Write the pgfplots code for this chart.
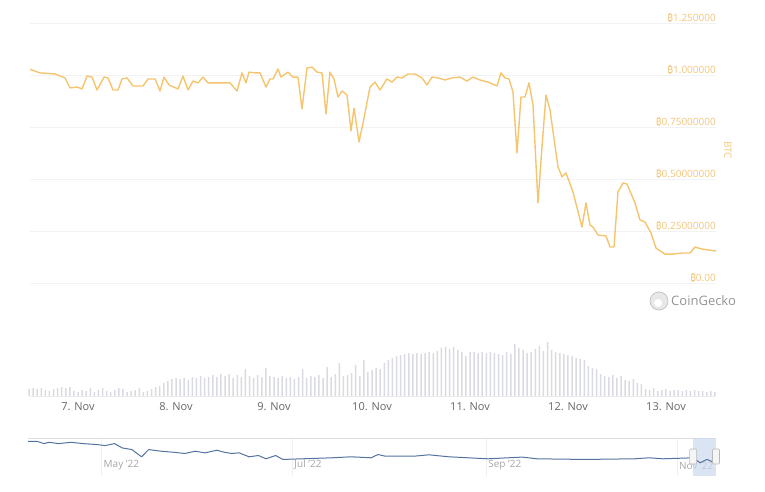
\documentclass[border=0pt]{standalone}
\usepackage{fontspec}
\setmainfont{Open Sans}
\newfontfamily\btc{Noto Sans}
\usepackage{pgfplots}
\pgfplotsset{compat=1.18}
\definecolor{btcline}{HTML}{F5C46E}
\definecolor{btclab}{HTML}{F2C57A}
\definecolor{gridc}{HTML}{F2F2F2}
\definecolor{volc}{HTML}{DADAE2}
\definecolor{xlab}{HTML}{666666}
\definecolor{navline}{HTML}{55739F}
\definecolor{navsel}{HTML}{CCD9EE}
\definecolor{cg}{HTML}{949494}
\begin{document}
\begin{tikzpicture}
\useasboundingbox (0pt,0pt) rectangle (765pt,-492pt);
% ---------- main price axis ----------
\begin{axis}[
 at={(30pt,-283pt)}, anchor=south west,
 scale only axis, width=686pt, height=260pt,
 xmin=-11.76, xmax=156.25, ymin=0, ymax=1.25,
 axis line style={draw=none}, major tick length=0pt,
 xtick=\empty,
 ytick={0,0.25,0.5,0.75,1,1.25},
 yticklabels={{\btc ₿}0.00,{\btc ₿}0.25000000,{\btc ₿}0.50000000,{\btc ₿}0.75000000,{\btc ₿}1.000000,{\btc ₿}1.250000},
 ymajorgrids, grid style={gridc, line width=0.8pt},
 yticklabel pos=right,
 yticklabel style={anchor=south east, inner sep=0pt, yshift=0.5pt, font=\fontsize{10}{12}\selectfont, text=btclab},
 clip=false,
]
\addplot[btcline, line width=1.4pt, line join=round] coordinates {
(-11.76,1.027)(-9.31,1.010)(-5.63,1.005)(-3.18,0.986)(-1.96,0.938)(-0.24,0.942)(0.98,0.933)
(2.20,0.995)(3.43,0.990)(4.65,0.928)(6.37,0.990)(7.35,0.986)(8.57,0.928)(9.80,0.928)
(10.78,0.981)(12.0,0.986)(13.47,0.947)(15.92,0.947)(17.14,0.981)(18.86,0.981)(20.08,0.923)
(21.06,0.990)(22.29,0.952)(24.49,0.933)(25.71,0.995)(26.94,0.928)(28.16,0.971)(29.39,0.962)
(30.61,0.990)(31.84,0.962)(37.22,0.962)(38.94,0.923)(40.16,1.010)(41.14,0.962)(41.88,1.014)
(43.35,1.010)(44.57,1.010)(46.04,0.942)(47.02,0.981)(47.76,0.981)(48.98,1.029)(49.71,0.990)
(51.43,1.014)(52.65,0.990)(53.88,0.990)(54.86,0.837)(56.08,1.034)(57.31,1.038)(58.53,1.014)
(59.76,1.010)(60.73,0.813)(61.71,1.014)(62.69,0.981)(63.67,0.894)(64.65,0.923)(65.88,0.904)
(66.86,0.731)(67.59,0.841)(68.82,0.678)(69.80,0.769)(71.51,0.942)(72.73,0.966)(73.96,0.928)
(75.67,0.981)(76.90,0.966)(78.12,0.990)(79.35,0.986)(80.82,1.005)(82.53,1.005)(84.24,0.986)
(85.47,0.952)(86.69,0.990)(88.16,0.986)(89.88,0.976)(91.59,0.986)(93.55,0.990)(95.27,0.971)
(96.73,0.990)(98.45,0.976)(100.41,0.966)(102.61,0.947)(103.59,1.010)(104.57,0.986)(105.55,0.981)
(106.53,0.918)(107.51,0.625)(108.49,0.894)(109.47,0.894)(110.45,0.962)(111.43,0.856)(112.65,0.385)
(113.63,0.654)(114.61,0.904)(115.59,0.832)(117.55,0.558)(118.53,0.510)(119.51,0.529)(121.22,0.438)
(123.43,0.269)(124.41,0.385)(125.39,0.279)(126.12,0.269)(127.35,0.231)(129.31,0.226)(130.29,0.173)
(131.27,0.173)(132.24,0.438)(133.47,0.481)(134.45,0.476)(136.41,0.385)(137.63,0.303)(138.86,0.293)
(140.33,0.240)(141.55,0.168)(143.76,0.139)(145.71,0.139)(147.92,0.144)(149.88,0.144)(151.10,0.173)
(152.82,0.163)(156.25,0.154)
};
\end{axis}
\node[rotate=-90, text=btclab, font=\fontsize{10}{12}\selectfont] at (728pt,-150pt) {BTC};
% ---------- CoinGecko mark ----------
\fill[gray!18] (659pt,-301pt) circle (9pt);
\draw[gray!45, line width=0.8pt] (659pt,-301pt) circle (9pt);
\fill[white] (658pt,-303pt) circle (4pt);
\node[anchor=west, text=cg, font=\fontsize{13}{15}\selectfont, inner sep=0pt] at (671pt,-301pt) {CoinGecko};
% ---------- volume axis ----------
\begin{axis}[
 at={(30pt,-396pt)}, anchor=south west,
 scale only axis, width=686pt, height=60pt,
 xmin=-11.76, xmax=156.25, ymin=0, ymax=60,
 axis y line=none, axis x line*=bottom,
 x axis line style={draw=gray!15, -},
 major tick length=0pt,
 xtick={0,24,48,72,96,120,144},
 xticklabels={7. Nov,8. Nov,9. Nov,10. Nov,11. Nov,12. Nov,13. Nov},
 xticklabel style={text=xlab, font=\fontsize{11}{13}\selectfont, yshift=-3pt},
 clip=false,
]
\addplot[ybar, bar width=1.5pt, fill=volc, draw=none] coordinates {
(-12,7)(-11,8)(-10,7)(-9,8)(-8,6)(-7,5)(-6,7)(-5,8)(-4,9)(-3,8)(-2,9)(-1,5)
(0,4)(1,6)(2,5)(3,8)(4,4)(5,6)(6,8)(7,5)(8,4)(9,6)(10,8)(11,7)
(12,4)(13,5)(14,6)(15,8)(16,4)(17,5)(18,7)(19,9)(20,10)(21,13)(22,15)(23,17)
(24,18)(25,17)(26,18)(27,16)(28,19)(29,18)(30,20)(31,18)(32,19)(33,21)(34,19)(35,22)
(36,20)(37,22)(38,18)(39,21)(40,19)(41,27)(42,20)(43,18)(44,21)(45,19)(46,28)(47,20)
(48,19)(49,18)(50,20)(51,18)(52,19)(53,17)(54,19)(55,27)(56,18)(57,20)(58,19)(59,21)
(60,18)(61,29)(62,19)(63,22)(64,33)(65,20)(66,21)(67,23)(68,31)(69,20)(70,36)(71,24)
(72,26)(73,28)(74,27)(75,33)(76,36)(77,38)(78,40)(79,41)(80,42)(81,43)(82,42)(83,43)
(84,42)(85,43)(86,44)(87,43)(88,45)(89,48)(90,49)(91,47)(92,49)(93,46)(94,44)(95,40)
(96,44)(97,44)(98,43)(99,44)(100,43)(101,44)(102,43)(103,42)(104,41)(105,44)(106,42)(107,52)
(108,48)(109,46)(110,43)(111,44)(112,47)(113,50)(114,45)(115,54)(116,46)(117,44)(118,43)(119,42)
(120,41)(121,40)(122,38)(123,37)(124,36)(125,30)(126,28)(127,27)(128,22)(129,20)(130,19)(131,21)
(132,18)(133,20)(134,16)(135,15)(136,17)(137,13)(138,12)(139,7)(140,6)(141,8)(142,5)(143,6)
(144,7)(145,5)(146,6)(147,6)(148,5)(149,6)(150,5)(151,6)(152,5)(153,5)(154,4)(155,5)(156,4)
};
\end{axis}
% ---------- navigator ----------
\begin{axis}[
 at={(28pt,-476pt)}, anchor=south west,
 scale only axis, width=688pt, height=38pt,
 xmin=97.5, xmax=317.5, ymin=0, ymax=38,
 axis line style={draw=none}, major tick length=0pt,
 ytick=\empty,
 xtick={121,182,244,305},
 xticklabels={May '22,Jul '22,Sep '22,Nov '22},
 xmajorgrids, grid style={gray!12, line width=0.8pt},
 xticklabel style={anchor=south west, inner sep=0pt, xshift=2pt, yshift=6pt, text=gray!70, font=\fontsize{10}{12}\selectfont},
 clip=false,
]
\draw[gray!25, line width=0.8pt] (axis cs:97.5,38) -- (axis cs:317.5,38);
\fill[navsel, opacity=0.7] (axis cs:310.2,0) rectangle (axis cs:317.5,38);
\addplot[navline, line width=1pt, line join=round] coordinates {
(97.5,34.7)(100.4,34.7)(102.6,32.4)(104.2,33.7)(107.3,32.4)(111.3,33.7)(115.1,32.4)(119.7,31.4)
(122.1,30.4)(125.2,32.4)(127.6,28.1)(130.7,26.45)(133.8,19.2)(136.1,26.45)(140.0,24.8)(143.9,23.8)
(147.7,22.5)(150.9,24.8)(154.1,23.15)(157.9,25.8)(160.2,23.8)(162.6,22.5)(165.0,23.15)(168.2,19.2)
(171.2,20.5)(173.6,17.2)(176.7,20.5)(179.0,16.55)(185.1,17.2)(194.7,18.2)(200.8,19.2)(207.2,18.2)
(209.4,21.5)(211.7,19.85)(221.1,19.85)(225.7,21.2)(232.1,19.2)(244.6,17.2)(255.5,18.9)(260.3,17.2)
(275.6,16.55)(291.3,17.2)(296.1,18.2)(300.6,17.2)(310.1,18.2)(312.4,13.25)(314.6,16.55)(317.1,13.25)
};
\draw[gray!55, fill=gray!8, rounded corners=1pt, line width=0.6pt] ([xshift=-3.5pt]axis cs:310.2,12) rectangle ([xshift=3.5pt]axis cs:310.2,27);
\draw[gray!55, fill=gray!8, rounded corners=1pt, line width=0.6pt] ([xshift=-3.5pt]axis cs:317.5,12) rectangle ([xshift=3.5pt]axis cs:317.5,27);
\end{axis}
\end{tikzpicture}
\end{document}
